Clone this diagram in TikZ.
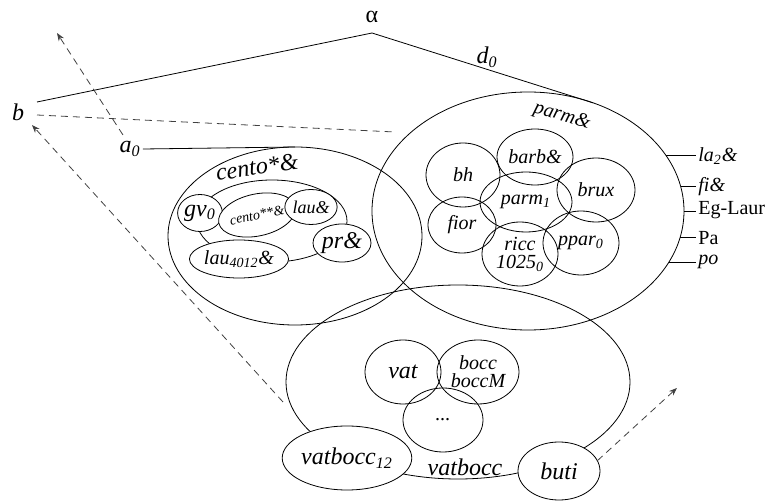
\documentclass[tikz,border=0pt]{standalone}
\usepackage{fontspec}
\setmainfont{Liberation Serif}
\usetikzlibrary{shapes.geometric,arrows.meta}
\begin{document}
\begin{tikzpicture}[x=0.5pt,y=-0.5pt,
  ell/.style={draw,ellipse,inner sep=0pt,outer sep=0pt,font=\itshape},
  wit/.style={ell,fill=white},
  txt/.style={inner sep=1pt,font=\itshape},
  dsh/.style={dash pattern=on 3.5pt off 2.5pt,black!75},
  arr/.style={dsh,-{Stealth[length=4pt,width=3pt]}}]
\useasboundingbox (0,0) rectangle (767,502);

\node[ell,minimum width=127pt,minimum height=89pt] (cento) at (295,236) {};
\node[ell,minimum width=156pt,minimum height=119pt] (parm) at (528,211) {};
\node[ell,minimum width=172pt,minimum height=97pt] (vatbocc) at (458,382) {};

\node[ell,minimum width=75pt,minimum height=41pt] (centoin) at (272,221) {};
\node[wit,minimum width=22pt,minimum height=18.5pt,font=\itshape\large] (gv) at (200,213) {gv\textsubscript{0}};
\node[wit,rotate=12,minimum width=30pt,minimum height=21pt,font=\itshape\scriptsize] (cento2) at (257,215) {cento**\&};
\node[wit,minimum width=22pt,minimum height=17.5pt,font=\itshape\small] (lau) at (311,207) {lau\&};
\node[wit,minimum width=29pt,minimum height=19pt,font=\itshape\large] (pr) at (342,243) {pr\&};
\node[wit,minimum width=36pt,minimum height=19pt] (lau4012) at (239,259) {lau\textsubscript{4012}\&};
\node[txt,rotate=8,font=\itshape\large] (centolbl) at (257,167) {cento*\&};

\node[ell,minimum width=38pt,minimum height=28pt] (barb) at (535,157) {barb\&};
\node[ell,minimum width=37pt,minimum height=32pt] (bh) at (463,175) {bh};
\node[ell,minimum width=46pt,minimum height=30pt] (parm1) at (526,202) {parm\textsubscript{1}};
\node[ell,minimum width=39pt,minimum height=32pt] (brux) at (596,190) {brux};
\node[ell,minimum width=34pt,minimum height=28pt] (fior) at (462,225) {fior};
\node[ell,minimum width=38pt,minimum height=32pt,align=center] (ricc) at (520,254) {ricc\\[-3pt]1025\textsubscript{0}};
\node[ell,minimum width=38pt,minimum height=32pt] (ppar) at (581,243) {ppar\textsubscript{0}};
\node[txt,rotate=-16] (parmlbl) at (562,116) {parm\&};

\node[ell,minimum width=38pt,minimum height=32pt,font=\itshape\large] (vat) at (403,372) {vat};
\node[ell,minimum width=41pt,minimum height=32pt,align=center] (bocc) at (478,372) {bocc\\[-3pt]boccM};
\node[ell,minimum width=40pt,minimum height=32pt] (dots) at (443,420) {...};
\node[wit,minimum width=47pt,minimum height=32pt,font=\itshape\large] (vb12) at (347,458) {vatbocc\textsubscript{12}};
\node[wit,minimum width=41pt,minimum height=29pt,font=\itshape\large] (buti) at (559,471) {buti};
\node[txt,font=\itshape\large] (vblbl) at (465,467) {vatbocc};

\node[inner sep=1pt,font=\large] (alpha) at (372,17) {α};
\node[txt,font=\itshape\large] (d0) at (487,57) {d\textsubscript{0}};
\node[txt,font=\itshape\large] (b) at (18,112) {b};
\node[txt,font=\itshape\large] (a0) at (130,149) {a\textsubscript{0}};

\coordinate (apex) at (372,33);
\coordinate (bt) at (37,102);
\coordinate (bd) at (37,115);
\coordinate (bdend) at (395,132);
\coordinate (a0s) at (123,135);
\coordinate (a0tip) at (57,33);
\coordinate (btip) at (32,125);
\coordinate (vbs) at (283,402);
\coordinate (butitip) at (677,388);

\draw (bt) -- (apex) -- (parm.59);
\draw[dsh] (bd) -- (bdend);
\draw (a0.east) -- (cento.north);
\draw[arr] (a0s) -- (a0tip);
\draw[arr] (vbs) -- (btip);
\draw[arr] (buti.15) -- (butitip);

\node[txt,anchor=west] (la) at (696,156) {la\textsubscript{2}\&};
\node[txt,anchor=west] (fi) at (696,187) {fi\&};
\node[txt,anchor=west,font=\normalsize] (eg) at (696,210) {Eg-Laur};
\node[txt,anchor=west,font=\normalsize] (pa) at (696,238) {Pa};
\node[txt,anchor=west] (po) at (696,262) {po};
\draw (parm.22) -- (parm.22 -| la.west);
\draw (parm.9) -- (parm.9 -| fi.west);
\draw (parm.0) -- (parm.0 -| eg.west);
\draw (parm.-10) -- (parm.-10 -| pa.west);
\draw (parm.-20) -- (parm.-20 -| po.west);
\end{tikzpicture}
\end{document}
